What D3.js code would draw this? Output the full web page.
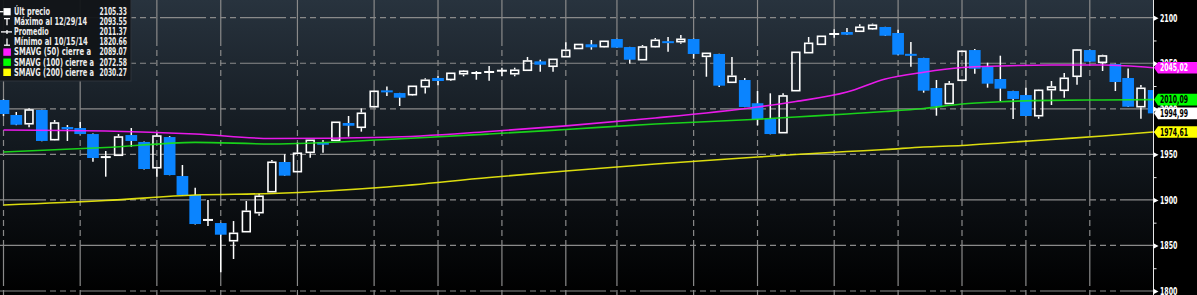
<!DOCTYPE html>
<html>
<head>
<meta charset="utf-8">
<script src="https://cdn.jsdelivr.net/npm/d3@7/dist/d3.min.js"></script>
<style>
    html, body { margin: 0; padding: 0; background: #000; }
    svg { display: block; }
    text { font-family: 'Liberation Sans Narrow', 'DejaVu Sans Condensed', 'Liberation Sans', sans-serif; }
</style>
</head>
<body>
<div id="chart"></div>
<script>
// 日线数据 (Sep 22 2014 - Jan 30 2015)
const opens = [2009.7, 1993.2, 1983.6, 1998.7, 1966.1, 1980.0, 1978.9, 1972.3, 1946.5, 1949.0,
    1971.2, 1963.6, 1935.3, 1969.0, 1926.2, 1905.4, 1877.5, 1874.6, 1855.2, 1865.1,
    1886.0, 1909.0, 1941.6, 1931.0, 1952.2, 1963.2, 1965.4, 1984.4, 1979.7, 2002.3,
    2019.8, 2017.3, 2015.5, 2024.3, 2033.8, 2032.2, 2038.5, 2039.0, 2040.2, 2041.6,
    2038.5, 2042.3, 2052.1, 2046.7, 2057.2, 2066.2, 2070.8, 2068.2, 2076.6, 2067.8,
    2053.9, 2068.2, 2074.1, 2073.7, 2076.6, 2057.6, 2060.2, 2029.1, 2031.6, 2006.1,
    1988.8, 1973.8, 2019.9, 2061.6, 2070.8, 2081.8, 2084.3, 2085.1, 2087.9, 2089.8,
    2083.2, 2060.2, 2055.8, 2022.8, 2005.8, 2031.3, 2064.5, 2046.2, 2032.7, 2019.5,
    2015.1, 1992.4, 2021.0, 2020.3, 2035.7, 2064.5, 2051.0, 2049.2, 2033.8, 2002.3,
    2020.6];
const highs = [2010.5, 1996.5, 2000.5, 1999.0, 1987.7, 1982.2, 1985.5, 1972.8, 1953.7, 1972.3,
    1978.9, 1964.0, 1973.1, 1970.0, 1938.3, 1913.4, 1899.9, 1875.0, 1876.8, 1898.8,
    1906.8, 1943.8, 1950.1, 1962.8, 1965.5, 1965.8, 1985.5, 1992.1, 2000.5, 2019.5,
    2024.5, 2017.5, 2025.0, 2033.5, 2036.0, 2039.2, 2042.6, 2041.5, 2047.0, 2045.1,
    2045.1, 2056.9, 2053.9, 2054.5, 2073.0, 2071.0, 2075.5, 2074.5, 2077.0, 2068.0,
    2070.0, 2077.7, 2078.8, 2081.0, 2077.0, 2061.0, 2060.5, 2056.9, 2033.8, 2019.5,
    2017.0, 2017.0, 2062.2, 2078.8, 2080.0, 2087.3, 2088.7, 2092.7, 2093.55, 2090.0,
    2086.8, 2073.3, 2056.0, 2031.6, 2030.5, 2063.5, 2065.6, 2050.6, 2058.3, 2019.7,
    2023.2, 2021.4, 2030.5, 2039.3, 2065.6, 2065.0, 2059.4, 2049.5, 2044.2, 2026.1,
    2021.0];
const lows = [1992.0, 1982.0, 1979.7, 1964.5, 1965.0, 1964.7, 1972.0, 1941.9, 1925.5, 1948.8,
    1958.4, 1933.5, 1925.5, 1927.0, 1905.0, 1873.0, 1871.3, 1820.66, 1835.1, 1864.8,
    1882.7, 1908.8, 1926.5, 1930.8, 1946.3, 1951.8, 1965.0, 1969.4, 1974.9, 2002.0,
    2014.1, 2003.1, 2014.1, 2016.8, 2025.8, 2030.5, 2035.7, 2031.9, 2030.8, 2035.7,
    2035.7, 2042.0, 2040.7, 2040.7, 2057.0, 2066.0, 2064.9, 2067.1, 2067.0, 2049.5,
    2053.5, 2067.1, 2062.7, 2071.5, 2055.0, 2035.2, 2023.9, 2029.0, 2001.8, 1981.9,
    1972.0, 1973.5, 2019.7, 2061.4, 2070.5, 2078.0, 2081.0, 2085.0, 2086.5, 2080.0,
    2059.0, 2046.2, 2017.7, 1992.4, 2005.5, 2031.0, 2038.5, 2023.2, 2008.6, 1988.8,
    1991.8, 1989.1, 2004.2, 2012.2, 2026.5, 2051.5, 2041.5, 2019.5, 2002.0, 1989.1,
    1994.5];
const closes = [1994.3, 1982.5, 1998.7, 1964.7, 1984.4, 1977.5, 1972.3, 1946.0, 1947.0, 1969.0,
    1964.7, 1933.9, 1970.1, 1927.3, 1905.4, 1873.5, 1878.0, 1861.8, 1863.3, 1887.5,
    1904.0, 1941.3, 1926.6, 1951.2, 1965.4, 1960.6, 1985.2, 1981.4, 1995.1, 2019.2,
    2018.5, 2012.2, 2024.7, 2031.3, 2030.5, 2039.0, 2041.2, 2039.3, 2040.4, 2041.8,
    2042.3, 2052.5, 2048.4, 2054.3, 2064.2, 2070.6, 2067.5, 2074.1, 2067.1, 2053.9,
    2067.8, 2075.2, 2072.2, 2076.3, 2060.2, 2060.9, 2025.4, 2035.7, 2002.0, 1988.6,
    1972.3, 2014.1, 2062.0, 2071.9, 2079.6, 2082.1, 2081.3, 2089.5, 2091.7, 2080.2,
    2059.4, 2058.3, 2019.9, 2002.3, 2027.2, 2063.1, 2044.0, 2027.6, 2022.1, 2010.8,
    1992.1, 2020.3, 2023.9, 2033.5, 2064.5, 2051.7, 2058.0, 2029.4, 2002.3, 2022.5,
    1994.99];

// 移动平均线 (sampled at these day indices)
const maDays = [0, 8, 15, 21, 30, 38, 44, 51, 59, 62, 66, 69, 72, 75, 78, 82, 86, 90];
const sma50 = [1976.7, 1975.6, 1972.3, 1967.4, 1968.7, 1975.1, 1981.3, 1989.9, 2002.0,
    2008.0, 2018.4, 2032.7, 2040.1, 2045.3, 2047.0, 2048.1, 2048.1, 2045.02];
const sma100 = [1952.6, 1957.5, 1963.2, 1961.4, 1966.3, 1972.3, 1977.3, 1983.3, 1988.5,
    1991.0, 1994.3, 1997.0, 2000.3, 2005.3, 2007.7, 2009.3, 2009.7, 2010.09];
const sma200 = [1894.4, 1899.3, 1905.4, 1907.0, 1914.2, 1924.6, 1931.7, 1939.4, 1947.1,
    1949.8, 1953.1, 1955.3, 1958.1, 1959.7, 1962.5, 1966.3, 1970.1, 1974.61];

// 坐标轴
const yMajorTicks = [1800, 1850, 1900, 1950, 2000, 2050, 2100];
const yMinorTicks = [1825, 1875, 1925, 1975, 2025, 2075];
const gridDays = [0, 6, 12, 17, 23, 29, 34, 39, 44, 48, 54, 59, 65, 70, 75, 80, 85];

// 图例
const legendNames = ['Últ precio', 'Máximo al 12/29/14', 'Promedio', 'Mínimo al 10/15/14',
    'SMAVG (50) cierre a', 'SMAVG (100) cierre a', 'SMAVG (200) cierre a'];
const legendValues = ['2105.33', '2093.55', '2011.37', '1820.66', '2089.07', '2072.58', '2030.27'];

// 右侧价格标签
const tagValues = [2045.02, 2010.09, 1994.99, 1974.61];
const tagLabels = ['2045,02', '2010,09', '1994,99', '1974,61'];

const COLORS = {
    down: '#0a84ff',
    up: '#ffffff',
    sma50: '#ff1aff',
    sma100: '#19e619',
    sma200: '#f2f20d',
    grid: '#8a8a8a'
};

const W = 1197, H = 295, plotRight = 1153;

const svg = d3.select('#chart').append('svg')
    .attr('width', W).attr('height', H);

const x = d3.scaleLinear().domain([0, 90]).range([3.5, 1153.7]);
const y = d3.scaleLinear().domain([1800, 2100]).range([291, 17.7]);

// 背景渐变
const defs = svg.append('defs');
const grad = defs.append('linearGradient').attr('id', 'bg')
    .attr('x1', 0).attr('y1', 0).attr('x2', 0).attr('y2', 1);
grad.append('stop').attr('offset', '0%').attr('stop-color', '#28333e');
grad.append('stop').attr('offset', '50%').attr('stop-color', '#12181e');
grad.append('stop').attr('offset', '100%').attr('stop-color', '#000000');

defs.append('clipPath').attr('id', 'plotClip')
    .append('rect').attr('x', 0).attr('y', 0).attr('width', plotRight).attr('height', H);

svg.append('rect').attr('width', W).attr('height', H).attr('fill', '#000');
svg.append('rect').attr('width', plotRight).attr('height', H).attr('fill', 'url(#bg)');

const plot = svg.append('g').attr('clip-path', 'url(#plotClip)');

// 网格线
const dash = '46,4,6,4,6,4,6,4';
plot.append('g').selectAll('line').data(yMajorTicks).enter().append('line')
    .attr('x1', 0).attr('x2', plotRight)
    .attr('y1', d => y(d)).attr('y2', d => y(d))
    .attr('stroke', COLORS.grid).attr('stroke-width', 1.2)
    .attr('stroke-dasharray', dash);
plot.append('g').selectAll('line').data(gridDays).enter().append('line')
    .attr('x1', d => x(d)).attr('x2', d => x(d))
    .attr('y1', 0).attr('y2', H)
    .attr('stroke', COLORS.grid).attr('stroke-width', 1.2)
    .attr('stroke-dasharray', dash);

// K线
const candles = d3.range(opens.length).map(i => ({
    i, o: opens[i], h: highs[i], l: lows[i], c: closes[i]
}));

const cg = plot.append('g');
candles.forEach(d => {
    const cx = x(d.i);
    const top = y(Math.max(d.o, d.c));
    const bot = y(Math.min(d.o, d.c));
    const g = cg.append('g');
    if (d.c >= d.o) {
        if (bot - top < 1.5) {
            g.append('line').attr('x1', cx).attr('x2', cx)
                .attr('y1', y(d.h)).attr('y2', y(d.l))
                .attr('stroke', COLORS.up).attr('stroke-width', 1.5);
            g.append('line').attr('x1', cx - 5).attr('x2', cx + 5)
                .attr('y1', top).attr('y2', top)
                .attr('stroke', COLORS.up).attr('stroke-width', 2);
        } else {
            if (y(d.h) < top - 0.8) {
                g.append('line').attr('x1', cx).attr('x2', cx)
                    .attr('y1', y(d.h)).attr('y2', top - 0.8)
                    .attr('stroke', COLORS.up).attr('stroke-width', 1.5);
            }
            if (y(d.l) > bot + 0.8) {
                g.append('line').attr('x1', cx).attr('x2', cx)
                    .attr('y1', bot + 0.8).attr('y2', y(d.l))
                    .attr('stroke', COLORS.up).attr('stroke-width', 1.5);
            }
            g.append('rect').attr('x', cx - 3.9).attr('y', top)
                .attr('width', 7.8).attr('height', bot - top)
                .attr('fill', 'none').attr('stroke', COLORS.up).attr('stroke-width', 1.6);
        }
    } else {
        g.append('line').attr('x1', cx).attr('x2', cx)
            .attr('y1', y(d.h)).attr('y2', y(d.l))
            .attr('stroke', COLORS.up).attr('stroke-width', 1.5);
        const hgt = Math.max(2, bot - top);
        g.append('rect').attr('x', cx - 5.85).attr('y', (top + bot) / 2 - hgt / 2)
            .attr('width', 11.7).attr('height', hgt)
            .attr('fill', COLORS.down);
    }
});

// 均线
const line = d3.line().x(d => x(d[0])).y(d => y(d[1])).curve(d3.curveMonotoneX);
[[sma200, COLORS.sma200], [sma100, COLORS.sma100], [sma50, COLORS.sma50]].forEach(([vals, col]) => {
    plot.append('path')
        .datum(maDays.map((d, k) => [d, vals[k]]))
        .attr('d', line)
        .attr('fill', 'none').attr('stroke', col)
        .attr('stroke-width', 1.6).attr('stroke-opacity', 0.9);
});

// 右侧坐标轴
svg.append('line').attr('x1', plotRight + 0.5).attr('x2', plotRight + 0.5)
    .attr('y1', 0).attr('y2', H).attr('stroke', '#e8e8e8').attr('stroke-width', 1);

const axisG = svg.append('g').attr('transform', `translate(${plotRight},0)`)
    .call(d3.axisRight(y).tickValues(yMajorTicks).tickSize(0).tickPadding(7)
        .tickFormat(d3.format('d')));
axisG.select('.domain').remove();
axisG.selectAll('text')
    .attr('fill', '#fff').attr('font-size', 10.5).attr('font-weight', 'bold')
    .attr('textLength', 17.5).attr('lengthAdjust', 'spacingAndGlyphs');
axisG.selectAll('.tick').append('path')
    .attr('d', 'M0.5,-2.7L5.5,0L0.5,2.7Z').attr('fill', '#fff');

const minorG = svg.append('g').attr('transform', `translate(${plotRight},0)`)
    .call(d3.axisRight(y).tickValues(yMinorTicks).tickSize(3.5).tickFormat(''));
minorG.select('.domain').remove();
minorG.selectAll('line').attr('stroke', '#e8e8e8');

// 价格标签
const tagStyle = [
    { fill: COLORS.sma50, text: '#fff' },
    { fill: '#00ff00', text: '#000' },
    { fill: '#ffffff', text: '#000' },
    { fill: '#ffff00', text: '#000' }
];
tagValues.forEach((v, k) => {
    const yc = y(v);
    const g = svg.append('g');
    g.append('path')
        .attr('d', `M${plotRight + 1},${yc}L${plotRight + 5},${yc - 5.8}L${W},${yc - 5.8}L${W},${yc + 5.8}L${plotRight + 5},${yc + 5.8}Z`)
        .attr('fill', tagStyle[k].fill);
    g.append('text').attr('x', plotRight + 7).attr('y', yc + 3.6)
        .attr('fill', tagStyle[k].text).attr('font-size', 10).attr('font-weight', 'bold')
        .attr('textLength', 28).attr('lengthAdjust', 'spacingAndGlyphs')
        .text(tagLabels[k]);
});

// 图例
const legend = svg.append('g');
legend.append('rect').attr('x', -1).attr('y', -1).attr('width', 132).attr('height', 82)
    .attr('fill', '#111417').attr('fill-opacity', 0.95)
    .attr('stroke', '#2e353c').attr('stroke-width', 1);

const rowY = k => 11.7 + k * 10.1;
const legendNameWidth = [36, 73, 34.7, 73.7, 77, 80, 80];
const swatch = [null, null, null, null, COLORS.sma50, '#00ff00', '#ffff00'];

legendNames.forEach((name, k) => {
    const cy = rowY(k);
    legend.append('text').attr('x', 14).attr('y', cy + 3.3)
        .attr('fill', '#ececec').attr('font-size', 9.8).attr('font-weight', 'bold')
        .attr('textLength', legendNameWidth[k]).attr('lengthAdjust', 'spacingAndGlyphs')
        .text(name);
    legend.append('text').attr('x', 127).attr('y', cy + 3.3)
        .attr('text-anchor', 'end')
        .attr('fill', '#ececec').attr('font-size', 9.8).attr('font-weight', 'bold')
        .attr('textLength', 27.5).attr('lengthAdjust', 'spacingAndGlyphs')
        .text(legendValues[k]);
    if (swatch[k]) {
        legend.append('rect').attr('x', 3.3).attr('y', cy - 3.7)
            .attr('width', 7.6).attr('height', 7.4).attr('fill', swatch[k]);
    }
});

// 图例图标
const ic = legend.append('g').attr('stroke', '#fff').attr('stroke-width', 1.3).attr('fill', 'none');
ic.append('line').attr('x1', 0).attr('x2', 3.5).attr('y1', rowY(0)).attr('y2', rowY(0));
legend.append('rect').attr('x', 3.5).attr('y', rowY(0) - 3.6).attr('width', 7.2).attr('height', 7.2).attr('fill', '#fff');
ic.append('line').attr('x1', 4).attr('x2', 10).attr('y1', rowY(1) - 3.2).attr('y2', rowY(1) - 3.2);
ic.append('line').attr('x1', 7).attr('x2', 7).attr('y1', rowY(1) - 3.2).attr('y2', rowY(1) + 3.4);
ic.append('line').attr('x1', 1).attr('x2', 12).attr('y1', rowY(2)).attr('y2', rowY(2));
ic.append('line').attr('x1', 7).attr('x2', 7).attr('y1', rowY(2) - 2).attr('y2', rowY(2) + 2);
ic.append('line').attr('x1', 7).attr('x2', 7).attr('y1', rowY(3) - 3.4).attr('y2', rowY(3) + 3.2);
ic.append('line').attr('x1', 4).attr('x2', 10).attr('y1', rowY(3) + 3.2).attr('y2', rowY(3) + 3.2);
</script>
</body>
</html>
